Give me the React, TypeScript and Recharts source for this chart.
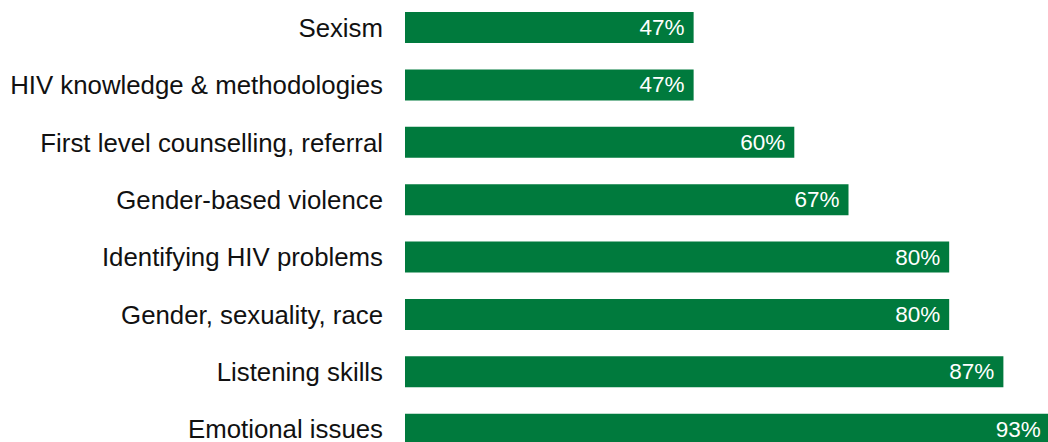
import React from "react";
import { BarChart, Bar, XAxis, YAxis, LabelList } from "recharts";

const categories = [
  "Sexism",
  "HIV knowledge & methodologies",
  "First level counselling, referral",
  "Gender-based violence",
  "Identifying HIV problems",
  "Gender, sexuality, race",
  "Listening skills",
  "Emotional issues",
];
const values = [47, 47, 60, 67, 80, 80, 87, 93];

const data = categories.map((name, i) => ({ name, value: values[i] }));

const GREEN = "#007a3d";
const FONT = "'Liberation Sans', Arial, Helvetica, sans-serif";

const ValueLabel = (props: any) => {
  const { x, y, width, height, value } = props;
  return (
    <text
      x={x + width - 9}
      y={y + height / 2}
      fill="#ffffff"
      textAnchor="end"
      dominantBaseline="central"
      fontSize={22.5}
      fontFamily={FONT}
    >
      {`${value}%`}
    </text>
  );
};

export default function App() {
  return (
    <div
      style={{
        position: "absolute",
        left: 0,
        top: 0,
        width: 1048,
        height: 442,
        overflow: "hidden",
        background: "#fff",
      }}
    >
      <div style={{ position: "absolute", left: 0, top: -1 }}>
        <BarChart
          width={1048}
          height={459}
          data={data}
          layout="vertical"
          margin={{ top: 0, right: 0, bottom: 0, left: 0 }}
        >
          <XAxis
            type="number"
            hide
            domain={[9.73, 92.76]}
            allowDataOverflow
          />
          <YAxis
            type="category"
            dataKey="name"
            width={405}
            axisLine={false}
            tickLine={false}
            tickSize={0}
            tickMargin={22}
            interval={0}
            tick={{ fill: "#111", fontSize: 25.8, fontFamily: FONT }}
          />
          <Bar dataKey="value" fill={GREEN} barSize={31} isAnimationActive={false}>
            <LabelList dataKey="value" content={<ValueLabel />} />
          </Bar>
        </BarChart>
      </div>
    </div>
  );
}
